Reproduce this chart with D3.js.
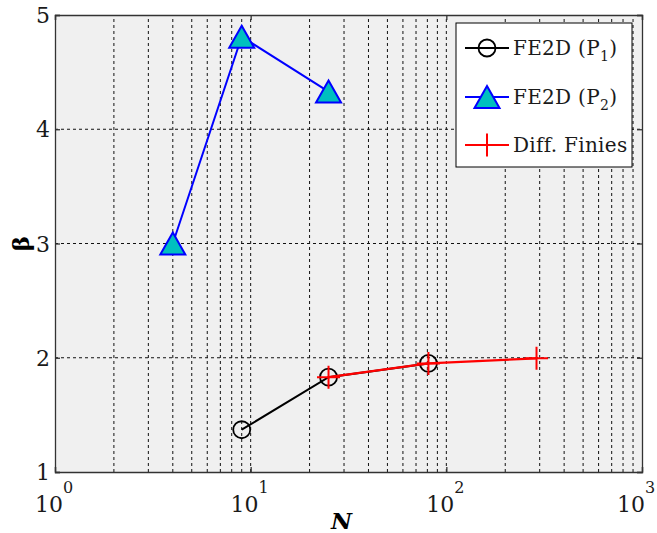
<!DOCTYPE html>
<html>
<head>
<meta charset="utf-8">
<script src="https://cdn.jsdelivr.net/npm/d3@7"></script>
<style>
  body { margin: 0; background: #fff; }
</style>
</head>
<body>
<div id="chart"></div>
<script>
// data
var p1N = [9, 25, 81]
var p1Beta = [1.37, 1.83, 1.95]
var p2N = [4, 9, 25]
var p2Beta = [3.0, 4.81, 4.33]
var dfN = [25, 81, 289]
var dfBeta = [1.83, 1.95, 1.995]
var yTicks = [1, 2, 3, 4, 5]
var xDecades = [1, 10, 100, 1000]
var legendLabels = ["FE2D (P", "FE2D (P", "Diff. Finies"]
var legendSubs = ["1", "2", ""]

var W = 657, H = 533
var margin = {top: 15, right: 15, bottom: 61, left: 55}
var serif = "'DejaVu Serif', serif"

var svg = d3.select("#chart").append("svg")
  .attr("width", W).attr("height", H)
  .attr("font-family", serif)
  .style("font-family", serif)

var x = d3.scaleLog().domain([1, 1000]).range([margin.left, W - margin.right])
var y = d3.scaleLinear().domain([1, 5]).range([H - margin.bottom, margin.top])

// plot background
svg.append("rect")
  .attr("x", x(1)).attr("y", y(5))
  .attr("width", x(1000) - x(1)).attr("height", y(1) - y(5))
  .attr("fill", "#f0f0f0")

// grid lines (dashed), minor + major for x
var xGrid = []
for (var d = 1; d < 1000; d *= 10) {
  for (var k = 1; k <= 9; k++) if (!(d == 1 && k == 1)) xGrid.push(d * k)
}
svg.append("g").selectAll("line").data(xGrid).enter().append("line")
  .attr("x1", function(d) { return x(d) }).attr("x2", function(d) { return x(d) })
  .attr("y1", y(1)).attr("y2", y(5))
  .attr("stroke", "#111").attr("stroke-width", 1).attr("stroke-dasharray", "3,3")

svg.append("g").selectAll("line").data([2, 3, 4]).enter().append("line")
  .attr("x1", x(1)).attr("x2", x(1000))
  .attr("y1", function(d) { return y(d) }).attr("y2", function(d) { return y(d) })
  .attr("stroke", "#111").attr("stroke-width", 1).attr("stroke-dasharray", "3,3")

// axes with inner ticks on all four sides
var axB = svg.append("g").attr("transform", "translate(0," + y(1) + ")")
  .call(d3.axisBottom(x).tickValues(xDecades).tickSize(-5).tickFormat(""))
var axT = svg.append("g").attr("transform", "translate(0," + y(5) + ")")
  .call(d3.axisTop(x).tickValues(xDecades).tickSize(-5).tickFormat(""))
var axL = svg.append("g").attr("transform", "translate(" + x(1) + ",0)")
  .call(d3.axisLeft(y).tickValues(yTicks).tickSize(-5).tickFormat(""))
var axR = svg.append("g").attr("transform", "translate(" + x(1000) + ",0)")
  .call(d3.axisRight(y).tickValues(yTicks).tickSize(-5).tickFormat(""))
;[axB, axT, axL, axR].forEach(function(a) {
  a.selectAll("path, line").attr("stroke", "#333").attr("stroke-width", 1.3)
})

// y tick labels
svg.append("g").selectAll("text").data(yTicks).enter().append("text")
  .attr("x", x(1) - 5).attr("y", function(d) { return y(d) + 8 })
  .attr("text-anchor", "end").attr("font-size", 22).attr("fill", "#1a1a1a")
  .text(function(d) { return d })

// x tick labels 10^k (last one nudged so the exponent stays in the window)
var xl = svg.append("g").selectAll("text").data(xDecades).enter().append("text")
  .attr("x", function(d) { return x(d) - (d == 1000 ? 6 : 1) }).attr("y", y(1) + 40)
  .attr("text-anchor", "middle").attr("font-size", 22).attr("fill", "#1a1a1a")
xl.append("tspan").text("10")
xl.append("tspan").attr("dy", -19).attr("font-size", 16)
  .text(function(d) { return Math.round(Math.log10(d)) })

// axis labels
svg.append("text")
  .attr("x", x(1) + (x(1000) - x(1)) / 2 - 7).attr("y", 529)
  .attr("text-anchor", "middle").attr("font-size", 23)
  .attr("font-weight", "bold").attr("font-style", "italic")
  .text("N")
svg.append("text")
  .attr("transform", "translate(29," + y(3) + ") rotate(-90)")
  .attr("text-anchor", "middle").attr("font-size", 23).attr("font-weight", "bold")
  .text("β")

var line = d3.line().x(function(d) { return x(d[0]) }).y(function(d) { return y(d[1]) })
var p1 = p1N.map(function(n, i) { return [n, p1Beta[i]] })
var p2 = p2N.map(function(n, i) { return [n, p2Beta[i]] })
var df = dfN.map(function(n, i) { return [n, dfBeta[i]] })

var triPath = "M0,-11 L12.5,11 L-12.5,11 Z"
function drawCircle(g, cx, cy) {
  g.append("circle").attr("cx", cx).attr("cy", cy).attr("r", 8.5)
    .attr("fill", "none").attr("stroke", "#000").attr("stroke-width", 1.8)
}
function drawTri(g, cx, cy) {
  g.append("path").attr("d", triPath).attr("transform", "translate(" + cx + "," + cy + ")")
    .attr("fill", "#00bfbf").attr("stroke", "#0000ff").attr("stroke-width", 2)
}
function drawPlus(g, cx, cy) {
  g.append("path").attr("d", "M" + (cx - 11.5) + "," + cy + "H" + (cx + 11.5) + "M" + cx + "," + (cy - 11.5) + "V" + (cy + 11.5))
    .attr("stroke", "#ff0000").attr("stroke-width", 2).attr("fill", "none")
}

// P1 series
svg.append("path").datum(p1).attr("d", line)
  .attr("fill", "none").attr("stroke", "#000").attr("stroke-width", 2)
var g1 = svg.append("g")
p1.forEach(function(d) { drawCircle(g1, x(d[0]), y(d[1])) })

// P2 series
svg.append("path").datum(p2).attr("d", line)
  .attr("fill", "none").attr("stroke", "#0000ff").attr("stroke-width", 2)
var g2 = svg.append("g")
p2.forEach(function(d) { drawTri(g2, x(d[0]), y(d[1])) })

// finite differences
svg.append("path").datum(df).attr("d", line)
  .attr("fill", "none").attr("stroke", "#ff0000").attr("stroke-width", 2.2)
var g3 = svg.append("g")
df.forEach(function(d) { drawPlus(g3, x(d[0]), y(d[1])) })

// legend
var lg = svg.append("g")
lg.append("rect").attr("x", 456).attr("y", 23).attr("width", 176).attr("height", 144)
  .attr("fill", "#fff").attr("stroke", "#000").attr("stroke-width", 1)
var rowY = [48, 97, 145]
var lineColors = ["#000", "#0000ff", "#ff0000"]
rowY.forEach(function(ry, i) {
  lg.append("line").attr("x1", 465).attr("x2", 509).attr("y1", ry).attr("y2", ry)
    .attr("stroke", lineColors[i]).attr("stroke-width", 2)
  if (i == 0) drawCircle(lg, 487, ry)
  if (i == 1) drawTri(lg, 487, ry)
  if (i == 2) drawPlus(lg, 487, ry)
  var t = lg.append("text").attr("x", 513).attr("y", ry + 7).attr("font-size", 20)
    .attr("fill", "#1a1a1a").attr("letter-spacing", 0.3)
  t.append("tspan").text(legendLabels[i])
  if (legendSubs[i]) {
    t.append("tspan").attr("font-size", 14).attr("dy", 6).text(legendSubs[i])
    t.append("tspan").attr("dy", -6).text(")")
  }
})
</script>
</body>
</html>
